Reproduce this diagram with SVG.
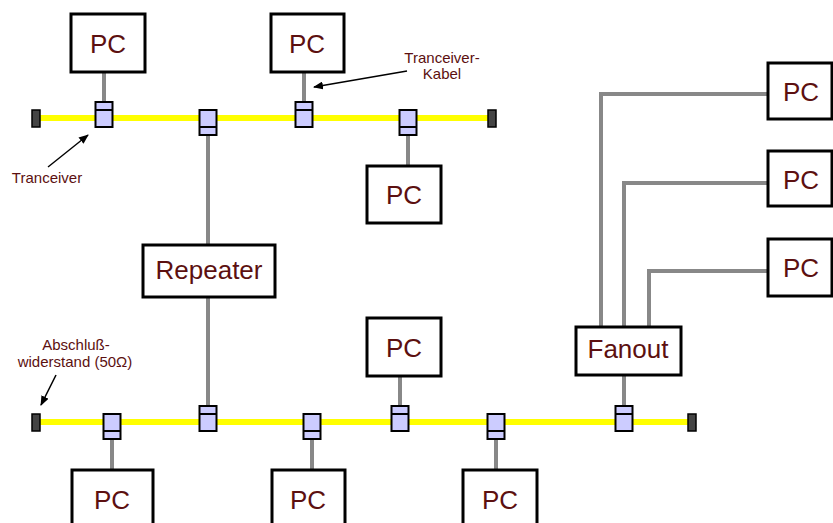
<svg xmlns="http://www.w3.org/2000/svg" width="833" height="523" viewBox="0 0 833 523">
<style>
.box{fill:#fff;stroke:#000;stroke-width:3}
.t{font-family:"Liberation Sans",Arial,sans-serif;fill:#5c1010;text-anchor:middle}
.big{font-size:26px}
.lbl{font-size:15px}
.bus{stroke:#ffff00;stroke-width:6;fill:none}
.cab{stroke:#888;stroke-width:4;fill:none}
.trx{fill:#ccccff;stroke:#000;stroke-width:2}
.term{fill:#444;stroke:#000;stroke-width:1.5}
.arr{stroke:#000;stroke-width:1.5;fill:none;marker-end:url(#ah)}
</style>
<defs>
<marker id="ah" markerWidth="10" markerHeight="8" refX="9" refY="4" orient="auto" markerUnits="userSpaceOnUse">
<path d="M0,0 L10,4 L0,8 z" fill="#000"/>
</marker>
<g id="trxUp"><rect class="trx" x="-8.5" y="-16" width="17" height="25"/><line x1="-8.5" y1="-8" x2="8.5" y2="-8" stroke="#000" stroke-width="2"/></g>
<g id="trxDown"><rect class="trx" x="-8.5" y="-8" width="17" height="25"/><line x1="-8.5" y1="9" x2="8.5" y2="9" stroke="#000" stroke-width="2"/></g>
</defs>
<g id="buses">
<line class="bus" x1="36" y1="118" x2="492" y2="118"/>
<line class="bus" x1="36" y1="422" x2="692" y2="422"/>
</g>
<g id="connectors">
<line class="cab" x1="104" y1="72" x2="104" y2="102"/>
<line class="cab" x1="304" y1="72" x2="304" y2="102"/>
<line class="cab" x1="208" y1="135" x2="208" y2="245"/>
<line class="cab" x1="208" y1="297" x2="208" y2="406"/>
<line class="cab" x1="408" y1="135" x2="408" y2="166"/>
<line class="cab" x1="112" y1="439" x2="112" y2="470"/>
<line class="cab" x1="312" y1="439" x2="312" y2="470"/>
<line class="cab" x1="496" y1="439" x2="496" y2="470"/>
<line class="cab" x1="400" y1="376" x2="400" y2="406"/>
<line class="cab" x1="624" y1="375" x2="624" y2="406"/>
<polyline class="cab" points="601,327 601,94 768,94"/>
<polyline class="cab" points="624,327 624,183 768,183"/>
<polyline class="cab" points="649,327 649,271 768,271"/>
<line class="arr" x1="407" y1="71" x2="314" y2="87"/>
<line class="arr" x1="48" y1="167" x2="88" y2="135"/>
<line class="arr" x1="56" y1="375" x2="41" y2="405"/>
</g>
<g id="terminators">
<rect class="term" x="32" y="110" width="8" height="17"/>
<rect class="term" x="488" y="110" width="8" height="17"/>
<rect class="term" x="32" y="414" width="8" height="17"/>
<rect class="term" x="688" y="414" width="8" height="17"/>
</g>
<g id="transceivers">
<use href="#trxUp" x="104" y="118"/>
<use href="#trxDown" x="208" y="118"/>
<use href="#trxUp" x="304" y="118"/>
<use href="#trxDown" x="408" y="118"/>
<use href="#trxDown" x="112" y="422"/>
<use href="#trxUp" x="208" y="422"/>
<use href="#trxDown" x="312" y="422"/>
<use href="#trxUp" x="400" y="422"/>
<use href="#trxDown" x="496" y="422"/>
<use href="#trxUp" x="624" y="422"/>
</g>
<g id="pc1"><rect class="box" x="71" y="14" width="74" height="58"/><text class="t big" x="108" y="53">PC</text></g>
<g id="pc2"><rect class="box" x="271" y="14" width="73" height="58"/><text class="t big" x="307" y="53">PC</text></g>
<g id="pc3"><rect class="box" x="367" y="166" width="74" height="57"/><text class="t big" x="404" y="204">PC</text></g>
<g id="repeater"><rect class="box" x="143" y="245" width="132" height="52"/><text class="t big" x="209" y="279">Repeater</text></g>
<g id="pc4"><rect class="box" x="367" y="318" width="74" height="58"/><text class="t big" x="404" y="357">PC</text></g>
<g id="fanout"><rect class="box" x="576" y="327" width="105" height="48"/><text class="t big" x="628" y="358">Fanout</text></g>
<g id="pc5"><rect class="box" x="72" y="470" width="81" height="60"/><text class="t big" x="112" y="509">PC</text></g>
<g id="pc6"><rect class="box" x="272" y="470" width="73" height="60"/><text class="t big" x="308" y="509">PC</text></g>
<g id="pc7"><rect class="box" x="463" y="470" width="74" height="60"/><text class="t big" x="500" y="509">PC</text></g>
<g id="pc8"><rect class="box" x="768" y="63" width="64" height="56"/><text class="t big" x="801" y="101">PC</text></g>
<g id="pc9"><rect class="box" x="768" y="151" width="64" height="55"/><text class="t big" x="801" y="189">PC</text></g>
<g id="pc10"><rect class="box" x="768" y="239" width="64" height="57"/><text class="t big" x="801" y="277">PC</text></g>
<g id="labels">
<text class="t lbl" x="442" y="63">Tranceiver-</text>
<text class="t lbl" x="442" y="79">Kabel</text>
<text class="t lbl" x="47" y="183">Tranceiver</text>
<text class="t lbl" x="76" y="350">Abschluß-</text>
<text class="t lbl" x="75" y="367">widerstand (50Ω)</text>
</g>
</svg>
